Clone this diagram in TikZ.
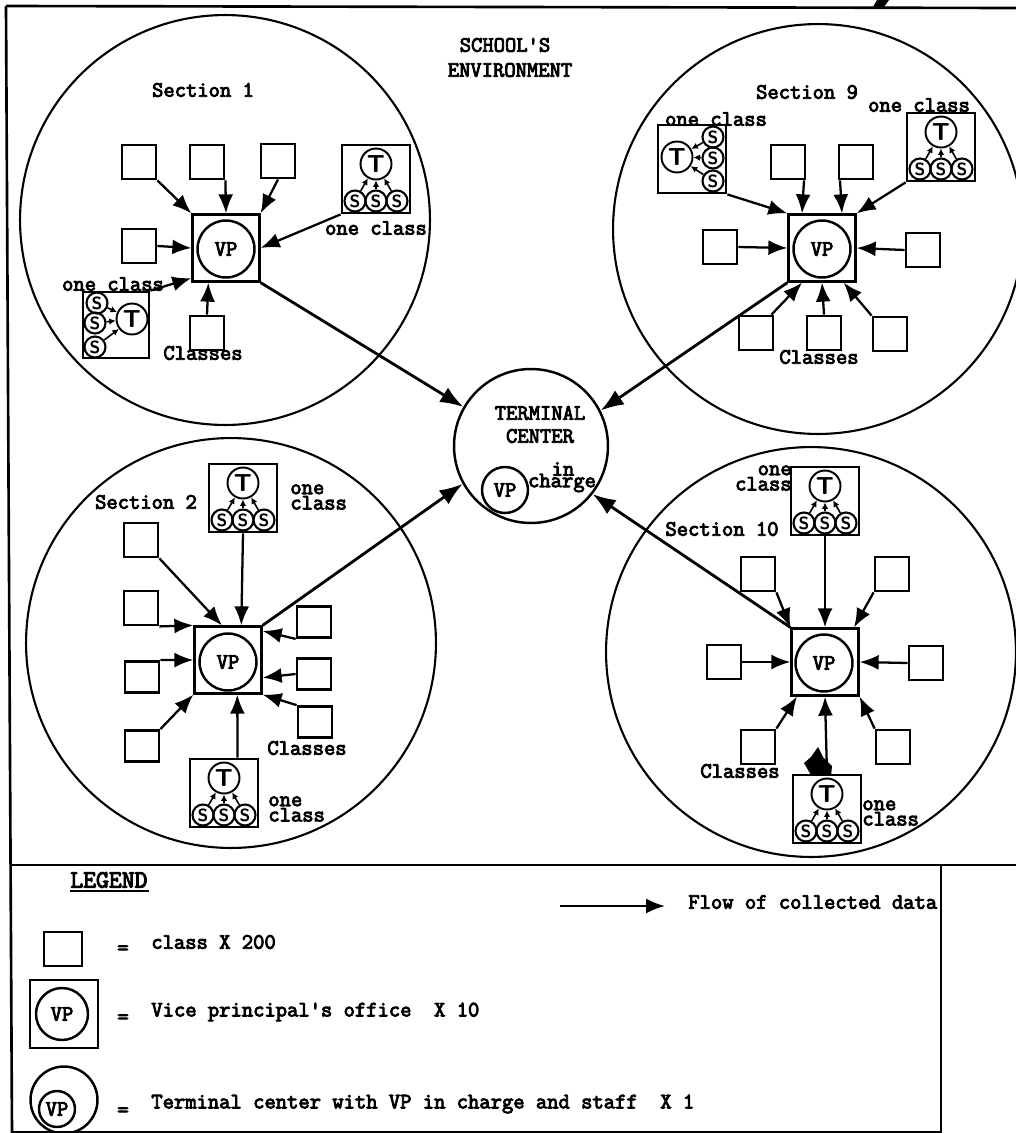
\documentclass[tikz,border=0pt]{standalone}
\usepackage{fontspec}
\setmonofont{Latin Modern Mono}[FakeBold=4]
\usepackage{tikz}
\usetikzlibrary{arrows.meta}

\newcommand{\lblfont}{\ttfamily\fontsize{12.5}{7}\selectfont}
% box with one teacher and three students, pupils below
\newcommand{\oneclass}[3]{
\node (#1) [classbox, minimum size=1.36cm] at (#2,#3) {};
\node (#1t) [tchr] at (#2,#3-15) {T};
\node (#1a) [stud] at (#2-21,#3+22) {S};
\node (#1b) [stud] at (#2,#3+22) {S};
\node (#1c) [stud] at (#2+21,#3+22) {S};
\draw[sflow] (#1a) -- (#1t);
\draw[sflow] (#1b) -- (#1t);
\draw[sflow] (#1c) -- (#1t);
}

\begin{document}
\begin{tikzpicture}[x=0.02cm, y=-0.02cm,
  classbox/.style={draw, line width=1.6pt, minimum size=0.68cm, inner sep=0pt},
  vpbox/.style={draw, line width=1.3pt, minimum size=1.34cm, inner sep=0pt},
  vpcirc/.style={draw, circle, line width=1.4pt, minimum size=1.14cm, inner sep=0pt, font=\lblfont},
  seccirc/.style={draw, circle, line width=1.2pt, minimum size=8.2cm, inner sep=0pt},
  tchr/.style={draw, circle, line width=1.1pt, minimum size=0.62cm, inner sep=0pt, font=\sffamily\bfseries\fontsize{14}{14}\selectfont},
  stud/.style={draw, circle, line width=1.2pt, minimum size=0.42cm, inner sep=0pt, font=\sffamily\bfseries\fontsize{10}{10}\selectfont},
  lbl/.style={inner sep=0pt, font=\lblfont},
  lbll/.style={lbl, anchor=west, align=left},
  flow/.style={-{Latex[length=3.8mm,width=3mm]}, line width=1.3pt},
  dflow/.style={-{Latex[length=4.6mm,width=3.4mm]}, line width=1.6pt},
  sflow/.style={-{Latex[length=1.3mm,width=1.3mm]}, line width=0.9pt}]
\useasboundingbox (0,0) rectangle (1016,1133);

% frame
\draw[line width=1.5pt] (6,6) -- (1016,8);
\draw[line width=1.5pt] (6,6) -- (12,1133);
\draw[line width=1.5pt] (10,865) -- (1016,865);
\draw[line width=1.5pt] (12,1132) -- (941,1132);
\draw[line width=1.5pt] (941,865) -- (941,1133);
\fill (873,7) -- (877,0) -- (889,0) -- (884,7) -- cycle;

\node (env1) [lbl] at (505,45) {SCHOOL'S};
\node (env2) [lbl] at (510,70) {ENVIRONMENT};

% terminal center
\node (term) [draw, circle, line width=1.4pt, minimum size=3.08cm, inner sep=0pt] at (531,446) {};
\node (termlbl1) [lbl] at (540,413) {TERMINAL};
\node (termlbl2) [lbl] at (540,436) {CENTER};
\node (termvp) [draw, circle, line width=1.4pt, minimum size=0.92cm, inner sep=0pt, font=\lblfont] at (505,490) {VP};
\node (termin) [lbl] at (563,469) {in};
\node (termch) [lbl] at (562,483) {charge};

% section 1
\node (sec1) [seccirc] at (225,220) {};
\node (sec1lbl) [lbl] at (203,90) {Section 1};
\node (vp1) [vpbox] at (226,248) {};
\node (vp1c) [vpcirc] at (226,249) {VP};
\node (c11) [classbox] at (139,162) {};
\node (c12) [classbox] at (207,162) {};
\node (c13) [classbox] at (278,161) {};
\node (c14) [classbox] at (139,246) {};
\node (c15) [classbox] at (207,333) {};
\oneclass{one11}{376}{179}
\node (one11lbl) [lbl] at (376,228) {one class};
\node (one12) [classbox, minimum size=1.32cm] at (116,325) {};
\node (one12t) [tchr] at (132,319) {T};
\node (one12a) [stud] at (97,303) {S};
\node (one12b) [stud] at (95,323) {S};
\node (one12c) [stud] at (95,347) {S};
\draw[sflow] (one12a) -- (one12t);
\draw[sflow] (one12b) -- (one12t);
\draw[sflow] (one12c) -- (one12t);
\node (one12lbl) [lbl] at (113,284) {one class};
\node (cls1lbl) [lbl] at (203,353) {Classes};
\draw[flow] (c11.south east) -- (vp1.north west);
\draw[flow] (c12.south east) -- (vp1.north);
\draw[flow] (c13.south) -- (vp1.north east);
\draw[flow] (c14.east) -- (vp1.west);
\draw[flow] (c15.north) -- (vp1.-117);
\draw[flow] (one11.south west) -- (vp1.east);
\draw[flow] (one12.north east) -- (vp1.221);
\draw[dflow] (vp1.south east) -- (term.150);

% section 9
\node (sec9) [seccirc] at (818,229) {};
\node (sec9lbl) [lbl] at (807,92) {Section 9};
\node (vp9) [vpbox] at (822,248) {};
\node (vp9c) [vpcirc] at (822,249) {VP};
\node (c91) [classbox] at (788,162) {};
\node (c92) [classbox] at (856,162) {};
\node (c93) [classbox] at (720,247) {};
\node (c94) [classbox] at (923,250) {};
\node (c95) [classbox] at (756,333) {};
\node (c96) [classbox] at (824,333) {};
\node (c97) [classbox] at (890,334) {};
\oneclass{one91}{941}{147}
\node (one91lbl) [lbl] at (919,105) {one class};
\node (one92) [classbox, minimum size=1.36cm] at (692,159) {};
\node (one92t) [tchr] at (677,157) {T};
\node (one92a) [stud] at (713,137) {S};
\node (one92b) [stud] at (713,158) {S};
\node (one92c) [stud] at (713,181) {S};
\draw[sflow] (one92a) -- (one92t);
\draw[sflow] (one92b) -- (one92t);
\draw[sflow] (one92c) -- (one92t);
\node (one92lbl) [lbl] at (716,119) {one class};
\node (cls9lbl) [lbl] at (819,357) {Classes};
\draw[flow] (c91.-49) -- (vp9.120);
\draw[flow] (c92.-131) -- (vp9.60);
\draw[flow] (c93.east) -- (vp9.west);
\draw[flow] (c94.west) -- (vp9.east);
\draw[flow] (c95.50) -- (vp9.-120);
\draw[flow] (c96.north) -- (vp9.south);
\draw[flow] (c97.north west) -- (vp9.-58);
\draw[flow] (one91.south west) -- (vp9.north east);
\draw[flow] (one92.south east) -- (vp9.north west);
\draw[dflow] (vp9.south west) -- (term.27);

% section 2
\node (sec2) [seccirc] at (231,643) {};
\node (sec2lbl) [lbl] at (146,502) {Section 2};
\node (vp2) [vpbox] at (228,660) {};
\node (vp2c) [vpcirc] at (228,662) {VP};
\node (c21) [classbox] at (141,540) {};
\node (c22) [classbox] at (141,608) {};
\node (c23) [classbox, minimum height=0.62cm] at (142,677) {};
\node (c24) [classbox, minimum height=0.62cm] at (142,746) {};
\node (c25) [classbox, minimum height=0.62cm] at (314,622) {};
\node (c26) [classbox, minimum height=0.62cm] at (314,674) {};
\node (c27) [classbox, minimum height=0.62cm] at (315,722) {};
\oneclass{one21}{243}{498}
\node (one21lbl) [lbll] at (290,497) {one\\class};
\oneclass{one22}{224}{793}
\node (one22lbl) [lbll] at (268,809) {one\\class};
\node (cls2lbl) [lbl] at (307,748) {Classes};
\draw[flow] (c21.south east) -- (vp2.100);
\draw[flow] (c22.south east) -- (vp2.north west);
\draw[flow] (c23.north east) -- (vp2.west);
\draw[flow] (c24.north east) -- (vp2.south west);
\draw[flow] (c25.south west) -- (vp2.40);
\draw[flow] (c26.west) -- (vp2.-27);
\draw[flow] (c27.north west) -- (vp2.south east);
\draw[flow] (one21.south) -- (vp2.69);
\draw[flow] (one22.69) -- (vp2.-75);
\draw[dflow] (vp2.north east) -- (term.209);

% section 10
\node (sec10) [seccirc] at (811,652) {};
\node (sec10lbl) [lbl] at (722,529) {Section 10};
\node (vp10) [vpbox] at (825,662) {};
\node (vp10c) [vpcirc] at (824,663) {VP};
\node (c101) [classbox] at (758,574) {};
\node (c102) [classbox] at (892,574) {};
\node (c103) [classbox] at (724,662) {};
\node (c104) [classbox] at (926,663) {};
\node (c105) [classbox] at (758,747) {};
\node (c106) [classbox] at (893,747) {};
\oneclass{one101}{825}{501}
\node (one101lbl) [lbl, anchor=east, align=right] at (792,478) {one\\class};
\oneclass{one102}{827}{809}
\node (one102lbl) [lbll] at (862,813) {one\\class};
\node (cls10lbl) [lbl] at (740,771) {Classes};
\draw[flow] (c101.south east) -- (vp10.north west);
\draw[flow] (c102.south west) -- (vp10.50);
\draw[flow] (c103.east) -- (vp10.west);
\draw[flow] (c104.west) -- (vp10.east);
\draw[flow] (c105.north east) -- (vp10.-129);
\draw[flow] (c106.north west) -- (vp10.south east);
\draw[flow] (one101.south) -- (vp10.north);
\draw[flow] (one102.north) -- (vp10.south);
\draw[dflow] (vp10.north west) -- (term.-38);
\fill (818,747) -- (823,757) -- (832,766) -- (831,776) -- (811,775) -- (804,763) -- (811,757) -- cycle;

% legend
\node (lgd) [lbll, font=\ttfamily\fontsize{14.2}{14}\selectfont] at (70,880) {LEGEND};
\draw[line width=1.4pt] (70,891) -- (149,891);
\coordinate (flowa) at (560,906);
\coordinate (flowb) at (665,906);
\draw[flow] (flowa) -- (flowb);
\node (flowlbl) [lbll] at (688,902) {Flow of collected data};
\node (lg1) [classbox, minimum width=0.76cm] at (63,949) {};
\node (eq1) [lbl] at (123,950) {=};
\node (lg1lbl) [lbll] at (151,942) {class X 200};
\node (lg2) [vpbox, minimum size=1.36cm] at (64,1014) {};
\node (lg2c) [vpcirc, minimum size=1.04cm] at (62,1014) {VP};
\node (eq2) [lbl] at (123,1019) {=};
\node (lg2lbl) [lbll] at (151,1012) {Vice principal's office\ \ X 10};
\node (lg3) [draw, circle, line width=1.4pt, minimum size=1.34cm, inner sep=0pt] at (64,1100) {};
\node (lg3c) [draw, circle, line width=1.4pt, minimum size=0.72cm, inner sep=0pt, font=\lblfont] at (57,1109) {VP};
\node (eq3) [lbl] at (123,1112) {=};
\node (lg3lbl) [lbll] at (151,1104) {Terminal center with VP in charge and staff\ \ X 1};
\end{tikzpicture}
\end{document}
